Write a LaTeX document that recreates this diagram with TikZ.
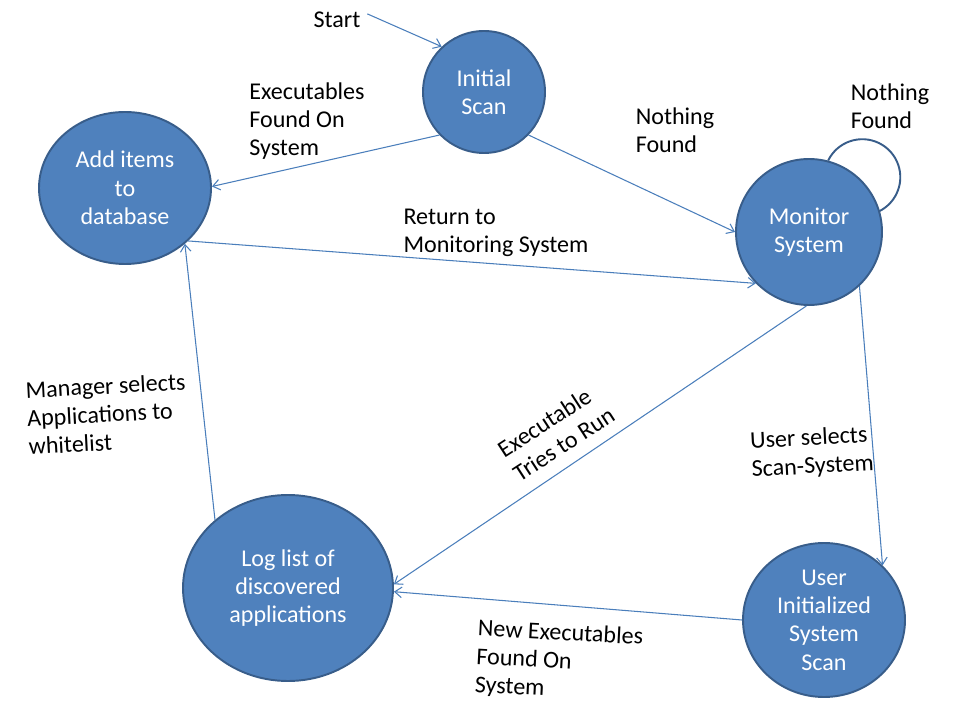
\documentclass[tikz,border=0pt]{standalone}
\usepackage{fontspec}
\setmainfont{Carlito}
\usepackage{tikz}
\usetikzlibrary{arrows.meta,positioning,shapes.geometric}
\definecolor{nodefill}{HTML}{4F81BD}
\definecolor{nodeline}{HTML}{385D8A}
\definecolor{arrowline}{HTML}{4A7EBB}
\tikzset{state node/.style={shape=ellipse,draw=nodeline,fill=nodefill,line width=1.1pt,text=white,align=center,inner sep=0pt,font=\fontsize{13.7}{16.1}\selectfont}}
\tikzset{lbl/.style={align=left,inner sep=0pt,text=black,font=\fontsize{13.7}{16.1}\selectfont}}

\begin{document}
\begin{tikzpicture}[->, >={Straight Barb[length=4pt,width=6pt]}, semithick, every edge/.append style={draw=arrowline}]
        \useasboundingbox (0,0) rectangle (19.2,14.4);
        \node[state node,minimum width=2.44cm,minimum height=2.44cm] (1) at (9.68,12.56) {Initial\\Scan};
        \node[state node,minimum width=3.44cm,minimum height=3.04cm] (2) at (2.50,10.64) {Add items\\to\\database};
        \node[state node,minimum width=2.92cm,minimum height=2.92cm] (3) at (16.18,9.76) {Monitor\\System};
        \node[state node,minimum width=4.2cm,minimum height=3.72cm] (4) at (5.76,2.64) {Log list of\\discovered\\applications};
        \node[state node,minimum width=3.24cm,minimum height=3.08cm] (5) at (16.48,2.00) {User\\Initialized\\System\\Scan};
        % labels
        \node[lbl] (0) at (6.74,14.01) {Start};
        \node[lbl] (t1) at (6.14,11.98) {Executables\\Found On\\System};
        \node[lbl] (t2) at (13.50,11.80) {Nothing\\Found};
        \node[lbl] (t3) at (17.80,12.27) {Nothing\\Found};
        \node[lbl] (t4) at (9.92,9.75) {Return to\\Monitoring System};
        \node[lbl,rotate=33] (t5) at (11.12,5.76) {Executable\\Tries to Run};
        \node[lbl,rotate=3] (t6) at (16.24,5.34) {User selects\\Scan-System};
        \node[lbl,rotate=-3] (t7) at (11.18,1.16) {New Executables\\Found On\\System};
        \node[lbl,rotate=3] (t8) at (2.14,6.12) {Manager selects\\Applications to\\whitelist};
        % transitions
        \path (0.north east) edge[shorten <=4pt] (1.133);
        \path (1.224) edge (2.1);
        \path (1.316) edge (3.180);
        \draw[-,draw=nodeline,line width=1.1pt] (3.75) arc[start angle=154,end angle=-64,radius=0.76];
        \path (2.320) edge (3.224);
        \path (3.268) edge (4.2);
        \path (3.313) edge (5.43);
        \path (5.180) edge (4.358);
        \path (4.137) edge (2.317);
\end{tikzpicture}
\end{document}
